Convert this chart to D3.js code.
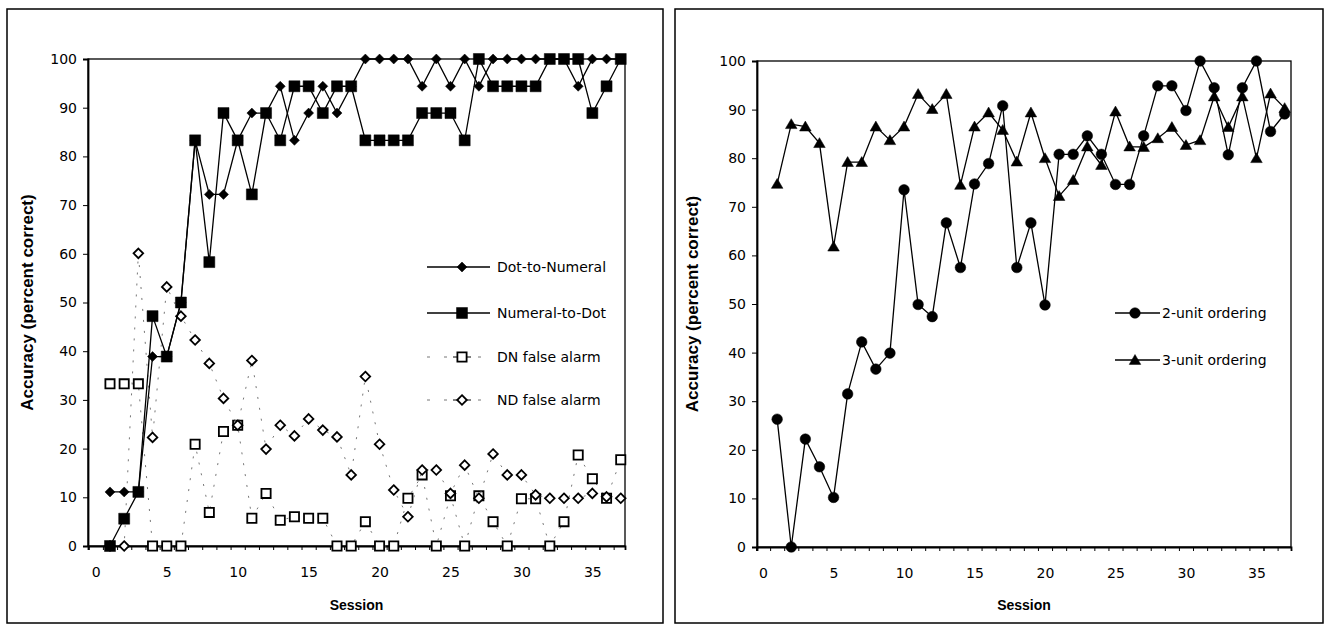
<!DOCTYPE html>
<html>
<head>
<meta charset="utf-8">
<script src="https://cdn.jsdelivr.net/npm/d3@7"></script>
<style>
  body { margin: 0; background: #fff; }
  .tick text { font-family: "DejaVu Sans", sans-serif; font-size: 14px; fill: #000; }
  .legend-text { font-family: "DejaVu Sans", sans-serif; font-size: 14px; fill: #000; }
  .axis-title { font-family: "Liberation Sans", Arial, sans-serif; font-weight: bold; fill: #000; }
</style>
</head>
<body>
<script>
//-------------------------------------------Data---------------------------------------------//
var sessions = [1, 2, 3, 4, 5, 6, 7, 8, 9, 10, 11, 12, 13, 14, 15, 16, 17, 18, 19, 20,
  21, 22, 23, 24, 25, 26, 27, 28, 29, 30, 31, 32, 33, 34, 35, 36, 37];
var xTickLabels = [0, 5, 10, 15, 20, 25, 30, 35];
var yTickLabels = [0, 10, 20, 30, 40, 50, 60, 70, 80, 90, 100];

// left panel
var dotToNumeral = [11.1, 11.1, 11.1, 38.9, 38.9, 50, 83.3, 72.2, 72.2, 83.3,
  88.9, 88.9, 94.4, 83.3, 88.9, 94.4, 88.9, 94.4, 100, 100,
  100, 100, 94.4, 100, 94.4, 100, 94.4, 100, 100, 100,
  100, 100, 100, 94.4, 100, 100, 100];
var numeralToDot = [0, 5.6, 11.1, 47.2, 38.9, 50, 83.3, 58.3, 88.9, 83.3,
  72.2, 88.9, 83.3, 94.4, 94.4, 88.9, 94.4, 94.4, 83.3, 83.3,
  83.3, 83.3, 88.9, 88.9, 88.9, 83.3, 100, 94.4, 94.4, 94.4,
  94.4, 100, 100, 100, 88.9, 94.4, 100];
var dnFalseAlarm = [33.3, 33.3, 33.3, 0, 0, 0, 20.9, 6.9, 23.5, 24.8,
  5.7, 10.8, 5.3, 6.0, 5.7, 5.7, 0, 0, 5.0, 0,
  0, 9.8, 14.6, 0, 10.3, 0, 10.3, 5.0, 0, 9.7,
  9.7, 0, 5.0, 18.7, 13.8, 9.8, 17.7];
var ndFalseAlarm = [0, 0, 60.1, 22.3, 53.2, 47.2, 42.3, 37.5, 30.3, 24.8,
  38.1, 19.9, 24.8, 22.6, 26.1, 23.8, 22.4, 14.6, 34.8, 20.9,
  11.5, 6.0, 15.6, 15.6, 10.8, 16.6, 9.8, 18.9, 14.6, 14.6,
  10.5, 9.8, 9.8, 9.8, 10.8, 10.1, 9.8];

// right panel
var twoUnitOrdering = [26.3, 0, 22.2, 16.5, 10.2, 31.5, 42.2, 36.6, 39.9, 73.5,
  49.9, 47.4, 66.7, 57.5, 74.7, 78.9, 90.8, 57.5, 66.7, 49.8,
  80.8, 80.8, 84.6, 80.8, 74.6, 74.6, 84.6, 94.9, 94.9, 89.8,
  100, 94.5, 80.7, 94.5, 100, 85.5, 89.1];
var threeUnitOrdering = [74.7, 87.0, 86.5, 83.1, 61.8, 79.2, 79.2, 86.5, 83.7, 86.5,
  93.2, 90.1, 93.2, 74.5, 86.5, 89.4, 85.8, 79.3, 89.4, 80.0,
  72.2, 75.5, 82.4, 78.6, 89.6, 82.4, 82.3, 84.1, 86.4, 82.7,
  83.7, 92.7, 86.4, 92.7, 80.0, 93.3, 90.3];

//-------------------------------------------Setup---------------------------------------------//
var svg = d3.select("body").append("svg")
  .attr("width", 1329)
  .attr("height", 625);

// marker path centred on 0,0
function markerPath(shape, s) {
  if (shape === "diamond") return "M0," + -s + "L" + s + ",0L0," + s + "L" + -s + ",0Z";
  if (shape === "square") return "M" + -s + "," + -s + "H" + s + "V" + s + "H" + -s + "Z";
  if (shape === "triangle") return "M0," + (-s) + "L" + (s * 1.05) + "," + (s * 0.8) + "L" + (-s * 1.05) + "," + (s * 0.8) + "Z";
  return "M" + -s + ",0A" + s + "," + s + " 0 1,0 " + s + ",0A" + s + "," + s + " 0 1,0 " + -s + ",0Z";
}

function drawPanel(p) {
  // outer frame
  svg.append("rect")
    .attr("x", p.frame[0]).attr("y", p.frame[1])
    .attr("width", p.frame[2]).attr("height", p.frame[3])
    .attr("fill", "none").attr("stroke", "#000").attr("stroke-width", 1.5);

  var x = d3.scaleLinear().domain(p.xDomain).range([p.left, p.right]);
  var y = d3.scaleLinear().domain([0, 100]).range([p.bottom, p.top]);

  var g = svg.append("g");

  // plot area border
  g.append("rect")
    .attr("x", p.left).attr("y", p.top)
    .attr("width", p.right - p.left).attr("height", p.bottom - p.top)
    .attr("fill", "none").attr("stroke", "#000").attr("stroke-width", 1.3);

  // y axis
  g.append("g")
    .attr("transform", "translate(" + p.left + ",0)")
    .call(d3.axisLeft(y).tickValues(yTickLabels).tickSize(5).tickPadding(6))
    .call(function (a) { a.select(".domain").attr("stroke-width", 1.8); });

  // x axis: minor marks between sessions, labels on the fives
  var minor = sessions.map(function (s) { return s - 1.5; }).concat([35.5, 36.5]);
  g.append("g")
    .attr("transform", "translate(0," + p.bottom + ")")
    .call(d3.axisBottom(x).tickValues(minor).tickSize(4).tickFormat(""))
    .call(function (a) { a.select(".domain").attr("stroke-width", 1.8); });
  g.append("g")
    .attr("transform", "translate(0," + p.bottom + ")")
    .call(d3.axisBottom(x).tickValues(xTickLabels).tickSize(0).tickPadding(21))
    .call(function (a) { a.select(".domain").remove(); });

  // titles
  svg.append("text")
    .attr("class", "axis-title")
    .attr("x", (p.left + p.right) / 2).attr("y", 610)
    .attr("text-anchor", "middle")
    .style("font-size", "14px")
    .text("Session");
  svg.append("text")
    .attr("class", "axis-title")
    .attr("transform", "translate(" + p.yTitleX + "," + (p.top + p.bottom) / 2 + ") rotate(-90)")
    .attr("text-anchor", "middle")
    .style("font-size", "17px")
    .text("Accuracy (percent correct)");

  // series
  p.series.forEach(function (s) {
    var pts = sessions.map(function (d, i) { return [d, s.values[i]]; });
    var line = d3.line()
      .x(function (d) { return x(d[0]); })
      .y(function (d) { return y(d[1]); });
    g.append("path")
      .datum(pts)
      .attr("d", line)
      .attr("fill", "none")
      .attr("stroke", s.dashed ? "#777" : "#000")
      .attr("stroke-width", s.dashed ? 1 : 1.3)
      .attr("stroke-dasharray", s.dashed ? "2,9" : null);
    g.selectAll(null)
      .data(pts)
      .enter()
      .append("path")
      .attr("transform", function (d) { return "translate(" + x(d[0]) + "," + y(d[1]) + ")"; })
      .attr("d", markerPath(s.shape, s.size))
      .attr("fill", s.fill)
      .attr("stroke", "#000")
      .attr("stroke-width", s.fill === "#fff" ? 1.8 : 0.5);
  });

  // legend
  p.legend.forEach(function (item) {
    var s = p.series.filter(function (d) { return d.name === item.name; })[0];
    var lg = svg.append("g").attr("transform", "translate(0," + item.y + ")");
    lg.append("line")
      .attr("x1", p.legendX[0]).attr("x2", p.legendX[2])
      .attr("stroke", s.dashed ? "#777" : "#000")
      .attr("stroke-width", s.dashed ? 1 : 1.3)
      .attr("stroke-dasharray", s.dashed ? "3,14" : null);
    if (s.dashed) {
      lg.append("line")
        .attr("x1", p.legendX[1] - 9).attr("x2", p.legendX[1] + 9)
        .attr("stroke", "#000").attr("stroke-width", 1);
    }
    lg.append("path")
      .attr("transform", "translate(" + p.legendX[1] + ",0)")
      .attr("d", markerPath(s.shape, s.size))
      .attr("fill", s.fill)
      .attr("stroke", "#000")
      .attr("stroke-width", s.fill === "#fff" ? 1.8 : 0.5);
    lg.append("text")
      .attr("class", "legend-text")
      .attr("x", p.legendX[3]).attr("y", 5)
      .text(s.name);
  });
}

//-------------------------------------------Left panel---------------------------------------------//
drawPanel({
  frame: [7, 9, 656, 614],
  left: 88, right: 625, top: 59, bottom: 546,
  xDomain: [-0.55, 37.3],
  yTitleX: 33,
  series: [
    { name: "DN false alarm", values: dnFalseAlarm, shape: "square", size: 4.6, fill: "#fff", dashed: true },
    { name: "ND false alarm", values: ndFalseAlarm, shape: "diamond", size: 4.8, fill: "#fff", dashed: true },
    { name: "Dot-to-Numeral", values: dotToNumeral, shape: "diamond", size: 5, fill: "#000", dashed: false },
    { name: "Numeral-to-Dot", values: numeralToDot, shape: "square", size: 5.5, fill: "#000", dashed: false }
  ],
  legendX: [427, 462, 490, 497],
  legend: [
    { name: "Dot-to-Numeral", y: 267 },
    { name: "Numeral-to-Dot", y: 313 },
    { name: "DN false alarm", y: 357 },
    { name: "ND false alarm", y: 400 }
  ]
});

//-------------------------------------------Right panel---------------------------------------------//
drawPanel({
  frame: [675, 9, 648, 614],
  left: 757, right: 1291, top: 61, bottom: 547,
  xDomain: [-0.43, 37.45],
  yTitleX: 698,
  series: [
    { name: "2-unit ordering", values: twoUnitOrdering, shape: "circle", size: 5.3, fill: "#000", dashed: false },
    { name: "3-unit ordering", values: threeUnitOrdering, shape: "triangle", size: 5.5, fill: "#000", dashed: false }
  ],
  legendX: [1115, 1135, 1160, 1162],
  legend: [
    { name: "2-unit ordering", y: 313 },
    { name: "3-unit ordering", y: 360 }
  ]
});
</script>
</body>
</html>
